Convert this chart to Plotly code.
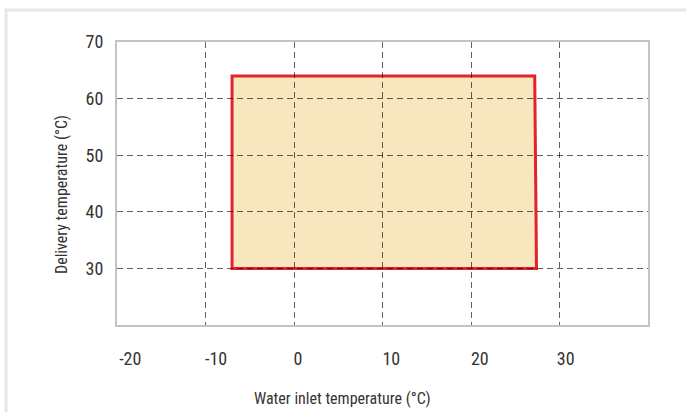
import plotly.graph_objects as go

# Operating envelope (water inlet temp °C, delivery temp °C)
envelope_x = [-7.0, -7.0, 27.2, 27.4]
envelope_y = [30.0, 64.0, 64.0, 30.0]

# Axis ticks
x_grid_vals = [-10, 0, 10, 20, 30]
x_tick_text = ["-20", "-10", "0", "10", "20", "30"]
x_tick_label_pos = [-18.5, -8.8, 0.45, 11.0, 21.0, 30.7]
y_tick_vals = [30, 40, 50, 60, 70]
y_tick_text = ["30", "40", "50", "60", "70"]

x_range = [-20, 40]
y_range = [20, 70]

FONT = "Roboto Condensed, Liberation Sans Narrow, DejaVu Sans Condensed, Roboto, sans-serif"
TXT = "#333333"
GRID = "rgba(0,0,0,0.62)"
AXLINE = "#c2c2ca"

path = "M " + " L ".join(f"{x},{y}" for x, y in zip(envelope_x, envelope_y)) + " Z"

fig = go.Figure()
# invisible helper traces so both x axes render
fig.add_trace(go.Scatter(x=envelope_x, y=envelope_y, mode="lines",
                         line=dict(width=0, color="rgba(0,0,0,0)"),
                         hoverinfo="skip", showlegend=False))
fig.add_trace(go.Scatter(x=envelope_x, y=envelope_y, mode="lines", xaxis="x2",
                         line=dict(width=0, color="rgba(0,0,0,0)"),
                         hoverinfo="skip", showlegend=False))

fig.add_shape(type="path", path=path, xref="x", yref="y", layer="below",
              fillcolor="#f8e6bf", line=dict(color="#e3222b", width=3))

# card border
fig.add_shape(type="rect", xref="paper", yref="paper",
              x0=-0.209, x1=1.5, y0=-0.6, y1=1.113,
              line=dict(color="#e6e6e6", width=3), fillcolor="rgba(0,0,0,0)",
              layer="below")

fig.update_layout(
    width=686, height=412,
    margin=dict(l=117, r=38, t=42, b=87),
    paper_bgcolor="white", plot_bgcolor="white",
    font=dict(family=FONT, color=TXT, size=18),
    showlegend=False,
    xaxis=dict(range=x_range, tickvals=x_grid_vals, showticklabels=False,
               showgrid=True, gridcolor=GRID, gridwidth=1, griddash="6px,4px",
               showline=True, linecolor=AXLINE, linewidth=2, mirror=True,
               zeroline=False, ticks="", fixedrange=True),
    xaxis2=dict(range=x_range, overlaying="x", side="bottom",
                tickvals=x_tick_label_pos, ticktext=x_tick_text,
                showgrid=False, zeroline=False, showline=False, ticks="",
                ticklabelstandoff=21, tickfont=dict(size=18, color=TXT),
                fixedrange=True),
    yaxis=dict(range=y_range, tickvals=y_tick_vals, ticktext=y_tick_text,
               showgrid=True, gridcolor=GRID, gridwidth=1, griddash="6px,4px",
               showline=True, linecolor=AXLINE, linewidth=2, mirror=True,
               zeroline=False, ticks="", ticklabelstandoff=8,
               tickfont=dict(size=18, color=TXT), fixedrange=True),
    annotations=[
        dict(text="Water inlet temperature (°C)", xref="paper", yref="paper",
             x=0.424, y=-0.258, showarrow=False, xanchor="center", yanchor="middle",
             font=dict(size=16, color=TXT, family=FONT)),
        dict(text="Delivery temperature (°C)", xref="paper", yref="paper",
             x=-0.1036, y=0.463, showarrow=False, textangle=-90,
             xanchor="center", yanchor="middle",
             font=dict(size=16, color=TXT, family=FONT)),
    ],
)

fig.write_html("out.html", config={"displayModeBar": False},
               post_script="document.body.style.margin='0';")
